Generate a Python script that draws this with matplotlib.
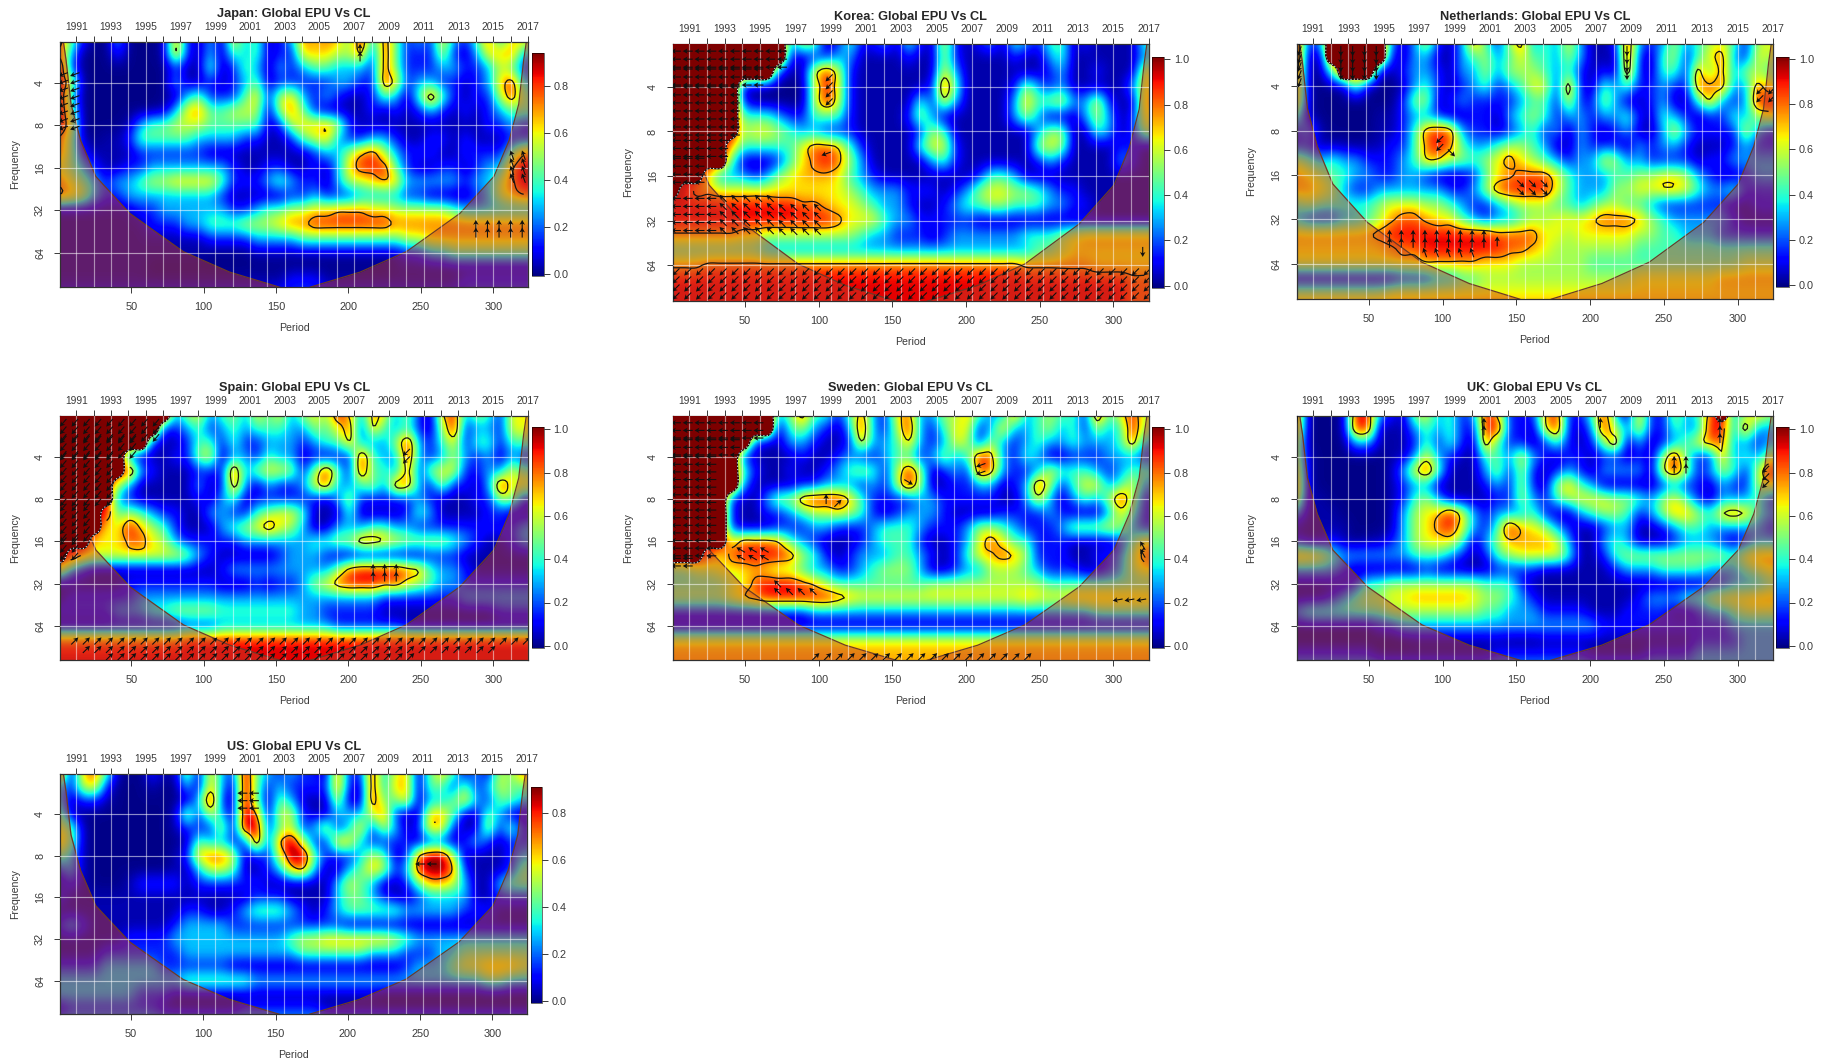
import numpy as np
import matplotlib
matplotlib.use("Agg")
import matplotlib.pyplot as plt
from matplotlib.cm import ScalarMappable
from matplotlib.colors import Normalize

plt.rcParams['font.family'] = ['Liberation Sans', 'DejaVu Sans']

# coherence, one char per cell (index into digit_levels)
# rows go 1/3 octave from log2 = 1 to 7, columns every 8 periods from 1 to 321
digit_levels = [0, 0.03, 0.13, 0.28, 0.43, 0.55, 0.65, 0.73, 0.82, 0.92, 1.0]

japan_rows = [
    "8420030001 7213163412 3767649384 2326324736 6",
    "7300020001 7213143412 2666557284 2225213667 3",
    "9200000000 2114124313 2344333284 2223322354 2",
    "9500000000 3112123412 2222332286 2332212368 3",
    "9300000000 1342224625 6323211243 1484212258 4",
    "9400000001 3674455515 7421111212 1232121234 4",
    "9500001344 5554444412 5667521111 1111111223 2",
    "7410112444 4433332211 2456322332 1122121112 2",
    "7421111222 2221111111 1123357853 2221122224 7",
    "5432112233 3333321122 1121368884 2112212337 9",
    "7543233455 6666422234 3221355676 3333323357 9",
    "7653223333 3333211111 2232223333 2211012356 7",
    "1111111223 3333322344 5566777665 5555433333 3",
    "1111111122 2334445556 7788888887 7777777777 7",
    "1111111111 1112222333 3444444444 5566666666 6",
    "1111111111 1110000111 1111111111 2233444444 4",
    "1111111100 0000000000 0000000001 1111111111 1",
    "1111111111 1111111111 2221111111 1111122222 2",
    "2222222222 2222222222 2222222222 2222222222 2",
]
korea_rows = [
    "aaaaaaaaaa 3651242231 4216212314 3244121111 4",
    "aaaaaaaaaa 2122331111 2115211112 1134111111 3",
    "aaaaaaaaa2 1169621111 1116311111 1123112111 6",
    "aaaaaa1100 0059621111 1129411112 5323111113 6",
    "aaaaaa2000 0059621111 1426311113 7456336211 7",
    "aaaaaa4443 2244421111 2531111113 5311135312 6",
    "aaaaaa5665 4332221111 1254111111 1355114312 5",
    "aaaaa74444 4688742111 1466211111 1565111122 1",
    "aaaaa41112 4689853111 1134211111 1232111132 1",
    "aaa6333235 6777643211 1111112443 1111111111 1",
    "a977666666 6666654333 2221235665 5432211111 1",
    "9999999999 9887665433 2112344554 4433221111 1",
    "9999999999 9999866643 3222221111 1111111111 1",
    "7777776655 5555554332 2212333333 4445677777 7",
    "4444444433 3333333333 3333333333 3445666666 6",
    "7778888888 8888888888 8888888888 7777776666 6",
    "9999999999 9999999999 9999999999 9999999998 8",
    "9999999999 9999999999 9999999999 9999999998 8",
    "9999999999 9999999999 9999999999 9999999998 8",
]
netherlands_rows = [
    "923aaaaa31 3621384258 3436311293 2353456425 6",
    "911aaaaa21 3311345346 4435311192 1452468326 5",
    "8104aaa112 3321335355 5434212182 1442848355 4",
    "7100141001 3421234234 6628214342 2322888338 6",
    "7100000002 5512322223 4426225311 2311473239 9",
    "4100000112 3321122134 5423323342 1432122435 6",
    "2310000112 4898322123 4231321231 1363222263 2",
    "2211101122 4898433455 4311322213 2332111232 2",
    "5434332223 4775545686 5432336533 2222122333 3",
    "7654433223 3211124678 8864333445 5665321123 3",
    "7765322333 3332235899 9964333556 6776433422 2",
    "4544444566 6554322345 5544345544 3222222112 2",
    "3222334578 8766432334 5566678887 5433333211 1",
    "7777777899 9999999888 8665666665 5443332222 2",
    "6666666678 8999999988 7655555554 4444444444 4",
    "6666666666 6777776665 5555544444 4444444455 5",
    "1111111112 2233445555 5555555556 6666667777 7",
    "5555555566 6666666666 6666666666 6666666666 6",
    "7777777777 7777777777 7777777777 7777777777 7",
]
spain_rows = [
    "aaaaaaaaaa 3563453646 3565973863 5217935426 6",
    "aaaaaaaaa2 2342343444 3354682743 4215923326 6",
    "aaaaaaaa21 1244242233 3234473335 9324624424 4",
    "aaaaaa2111 2256133243 3121229433 9323532313 2",
    "aaaaaa9321 1122293566 5259429443 8256622336 4",
    "aaaaa53111 1131283132 2368334538 8325221396 6",
    "aaaaa32111 1121341222 2221352222 2321112255 2",
    "aaaa945432 2113322456 6411141111 2431111221 1",
    "aaaa669754 2111345686 5311333443 3222222222 3",
    "aaa6668865 3222223333 3344558876 5555432112 3",
    "a976666666 6532111112 3332111111 1122211111 1",
    "6321111111 1111233333 3333589999 8743321111 1",
    "1111112222 2222111212 2356899988 6543322222 2",
    "1222222333 3333333333 3333333322 2222233333 3",
    "2222233344 5555444444 4332222211 1111111122 2",
    "1111111111 1222333333 3333222222 1111111111 1",
    "8888888888 8999999999 9999999999 9999999999 9",
    "9999999999 9999999999 9999999999 9999999999 9",
    "9999999999 9999999999 9999999999 9999999999 9",
]
sweden_rows = [
    "aaaaaaaaa3 5844248326 8335574338 3454429469 5",
    "aaaaaaaaa1 4532139325 9324662373 3453425349 5",
    "aaaaaaa211 3321127334 7323652532 3433433348 3",
    "aaaaaa2111 1211232234 4235349832 4311222333 2",
    "aaaaaa4211 2112345425 9512329832 2364443234 4",
    "aaaaaa3111 1223332325 9511223312 3952466346 3",
    "aaaaa21135 5899974222 2332222211 3631343595 2",
    "aaaaa21122 3455654212 3332111122 2232111364 2",
    "aaaaa21112 2233222344 4322235543 2223555653 2",
    "aaaaa68887 4321112344 4211236864 4222111124 6",
    "aaa8689999 8542123334 4321246787 5222112235 8",
    "4455666765 5433223455 5311233555 4322211235 6",
    "4444456899 9875444444 4455555555 5544444444 4",
    "5555567899 9999876666 6666666666 7666777777 7",
    "2222222222 2233333333 3333333333 3333334444 4",
    "1111111111 1111111111 1111111111 1111111111 1",
    "6666666666 6666666666 6666666666 6666666666 6",
    "7777777777 7777777777 7777777777 7777777777 7",
    "7777777777 7777777777 7777777777 7777777777 7",
]
uk_rows = [
    "8000199321 5634239722 2792249317 225348a357 5",
    "7000199111 3434229922 1692139536 2243399383 3",
    "5000033111 2424218422 1242125813 1234688332 3",
    "5100000011 3632114436 3212212212 1594227343 5",
    "6100000013 6941113525 2123213333 1695235425 9",
    "7100000012 3311112325 2157431111 1232213225 6",
    "6110000012 4531111225 3245666554 3564213334 2",
    "3111000013 5679632333 4211345542 3577547874 3",
    "1111100013 5689632497 6532112331 1234433333 2",
    "2112101123 5666413577 7763113431 1123332123 3",
    "7764333333 4443212456 6664112455 5555555467 7",
    "3333211111 1211101222 2111111233 3444433345 6",
    "1111124455 5555554442 1111111111 1111122333 4",
    "1112345566 7777765543 2111111112 3334456667 7",
    "3444444455 5555554433 3222211122 2211233455 5",
    "1111111223 3333333333 3333332222 2222222333 3",
    "0000000000 1111111100 0111111111 1111222233 3",
    "2222222111 1111111222 2222211111 2222333333 3",
    "3333333333 3333333333 3333333333 3333333333 3",
]
us_rows = [
    "8167410021 1516329432 3221722835 6146413154 7",
    "3256200010 0316319423 2222721836 6144242354 4",
    "3122100000 0139219414 3111511844 6133463244 3",
    "4100000000 1525319715 5211333572 1166411431 1",
    "5410000000 1222519924 5235236253 1266211524 2",
    "6410000000 0143322827 9522663222 2122123212 2",
    "4310000000 1267751225 9942223541 2799511112 3",
    "2310000000 1135541123 6731134652 3899721112 4",
    "1210001222 2122222211 1111354311 2466531134 4",
    "2111111111 1111111222 1111344321 1233331122 2",
    "1111111111 1221123444 3212344444 3333322211 1",
    "2321111111 2333322222 2222211111 1111111111 1",
    "1111112222 3333333333 4556666665 4333333333 3",
    "1111222222 2333333333 3444444333 2223344444 4",
    "2222333332 2222211111 1111111111 2333455666 5",
    "3333333333 3444444333 3333333333 3333333443 3",
    "3333333222 1111111111 1111111100 0000000000 0",
    "1222222221 1111112222 2221111111 1111111111 1",
    "3333333333 3333333333 3333333333 3333333333 3",
]

# arrow patches: first period, last period, first log2 freq, last log2 freq, angle
japan_arrows = [(3, 11, 1.8, 3.1, 200), (288, 321, 5.34, 5.53, 90), (313, 321, 3.7, 4.4, 110), (208, 208, 1.2, 1.4, 90)]
korea_arrows = [(3, 75, 1.2, 1.6, 180), (3, 59, 1.6, 2.0, 180), (3, 43, 2.0, 3.2, 180), (3, 35, 3.2, 3.6, 180),
                (3, 19, 3.6, 4.3, 180), (3, 27, 4.5, 5.3, 180), (35, 67, 4.5, 5.3, 135), (75, 99, 4.7, 5.3, 135),
                (107, 107, 1.8, 2.4, 225), (105, 105, 3.5, 3.5, 200), (3, 323, 6.15, 6.75, 225), (320, 320, 5.7, 5.7, 270)]
netherlands_arrows = [(31, 55, 1.2, 1.75, 270), (3, 3, 1.2, 2.0, 250), (98, 98, 3.2, 3.5, 225), (106, 106, 3.5, 3.5, 315),
                      (64, 130, 5.35, 5.55, 90), (88, 120, 5.75, 5.75, 110), (137, 137, 5.5, 5.5, 90),
                      (153, 169, 4.2, 4.4, 315), (225, 225, 1.2, 1.9, 270), (315, 323, 2.1, 2.4, 225)]
spain_arrows = [(3, 67, 1.2, 1.6, 230), (3, 51, 1.6, 2.0, 230), (3, 35, 2.0, 3.2, 230), (3, 19, 3.2, 4.0, 230),
                (3, 11, 4.0, 4.4, 230), (11, 323, 6.35, 6.35, 45), (19, 300, 6.55, 6.55, 45), (35, 250, 6.72, 6.72, 45),
                (217, 233, 4.65, 4.85, 90), (240, 240, 1.9, 2.2, 225)]
sweden_arrows = [(3, 59, 1.2, 1.6, 180), (3, 43, 1.6, 2.0, 180), (3, 27, 2.0, 4.4, 180), (3, 15, 4.4, 4.6, 180),
                 (47, 63, 4.2, 4.4, 150), (72, 96, 5.18, 5.18, 135), (72, 72, 5.0, 5.0, 135), (98, 244, 6.72, 6.72, 45),
                 (303, 319, 5.38, 5.38, 190), (320, 320, 4.1, 4.3, 120), (105, 105, 3.0, 3.15, 90),
                 (113, 113, 3.1, 3.1, 45), (161, 161, 2.6, 2.6, 330), (210, 210, 2.2, 2.4, 200)]
uk_arrows = [(257, 265, 2.1, 2.3, 90), (288, 288, 1.2, 1.6, 90), (128, 128, 1.2, 1.5, 90), (207, 207, 1.2, 1.3, 90),
             (319, 323, 2.3, 2.7, 225)]
us_arrows = [(127, 135, 1.5, 2.0, 180), (250, 258, 3.2, 3.2, 180)]

titles = ["Japan", "Korea", "Netherlands", "Spain", "Sweden", "UK", "US"]
all_rows = [japan_rows, korea_rows, netherlands_rows, spain_rows, sweden_rows, uk_rows, us_rows]
all_arrows = [japan_arrows, korea_arrows, netherlands_arrows, spain_arrows, sweden_arrows, uk_arrows, us_arrows]
top_values = [0.94, 1.01, 1.01, 1.01, 1.01, 1.01, 0.91]
# no significance line drawn below this log2 freq
contour_floor = [7, 7, 7, 6.0, 7, 7, 7]

# cone of influence, distance from the series edge against log2 freq
coi_dist = [0, 2, 4, 7.4, 14, 24.5, 48, 85, 117, 151, 162]
coi_log2 = [0.8, 1.0, 1.47, 2.5, 3.35, 4.2, 5.07, 5.97, 6.45, 6.8, 6.95]

freq_ticks = [4, 8, 16, 32, 64]
period_ticks = [50, 100, 150, 200, 250, 300]
years = list(range(1991, 2018))

# pixel boxes: left, right, top, bottom
axes_boxes = [(60.3, 528, 42, 287), (673, 1148.6, 44, 301), (1296.6, 1773, 44, 299),
              (60.3, 528, 416, 660), (673, 1148.6, 416, 660), (1296.6, 1773, 416, 660), (60.3, 527, 774, 1014)]
cbar_boxes = [(532, 543.5, 53, 276), (1151.7, 1164, 57, 288), (1776, 1789, 57, 287),
              (532, 543.5, 427, 648), (1151.7, 1164, 427, 648), (1776, 1789, 427, 648), (531, 542, 787, 1003)]

W, H = 1827, 1061
TXT = '#3a3a3a'


def parse_rows(rows):
    out = []
    for r in rows:
        r = r.replace(' ', '')
        r = r.ljust(41, r[-1])[:41]
        out.append([digit_levels[int(c, 16)] for c in r])
    return np.array(out)


def cubic_up(a, n, axis):
    # catmull-rom, only so the contour lines are as smooth as the bicubic image
    a = np.moveaxis(a, axis, 0)
    pos = np.arange((len(a) - 1) * n + 1) / n
    i = np.minimum(pos.astype(int), len(a) - 2)
    t = (pos - i).reshape((-1,) + (1,) * (a.ndim - 1))
    last = len(a) - 1
    p0, p1, p2, p3 = a[np.clip(i - 1, 0, last)], a[i], a[i + 1], a[np.clip(i + 2, 0, last)]
    out = 0.5 * (2 * p1 + (p2 - p0) * t + (2 * p0 - 5 * p1 + 4 * p2 - p3) * t ** 2 + (3 * p1 - p0 - 3 * p2 + p3) * t ** 3)
    return np.moveaxis(out, 0, axis)


def box_to_fig(box):
    l, r, t, b = box
    return [l / W, 1 - b / H, (r - l) / W, (b - t) / H]


def draw_panel(fig, name, rows, arrows, vmax, floor, box, cbox):
    z = parse_rows(rows)
    xg = 1 + 8 * np.arange(z.shape[1])
    yg = 1 + np.arange(z.shape[0]) / 3
    norm = Normalize(-0.01, vmax)

    ax = fig.add_axes(box_to_fig(box))
    ax.imshow(z, cmap='jet', norm=norm, aspect='auto', origin='upper', interpolation='bicubic',
              interpolation_stage='data', extent=(xg[0] - 4, xg[-1] + 4, yg[-1] + 1 / 6, yg[0] - 1 / 6), zorder=1)

    # shaded area outside the cone of influence
    d = np.array(coi_dist)
    cx = np.concatenate([1 + d, (325 - d)[::-1]])
    cy = np.array(coi_log2 + coi_log2[::-1])
    ax.fill_between(cx, cy, 8, color='#c83c28', alpha=0.48, lw=0, zorder=2)
    ax.plot(cx, cy, color='#6e3a28', lw=0.9, zorder=2.5)

    zs = cubic_up(cubic_up(z, 5, 0), 5, 1)
    xs = 1 + 8 * np.arange(zs.shape[1]) / 5
    ys = 1 + np.arange(zs.shape[0]) / 15

    # the saturated patches have a hard edge in the picture
    solid = cubic_up(cubic_up((z >= 0.99).astype(float), 5, 0), 5, 1)
    if solid.max() > 0.5:
        ax.contourf(xs, ys, solid, levels=[0.5, 9], colors='#7d0000', zorder=2.6)
        ax.contour(xs, ys, solid, levels=[0.5], colors='#151515', linewidths=0.9, zorder=4)
        ax.contour(xs, ys, solid, levels=[0.5], colors='#d8f4ff', linewidths=0.8, linestyles=[(0, (1, 2))], zorder=4.1)

    for yr in years:
        ax.axvline((yr - 1990) * 12, color='white', alpha=0.5, lw=0.85, zorder=3)
    for f in freq_ticks:
        ax.axhline(np.log2(f), color='white', alpha=0.55, lw=0.85, zorder=3)

    zc = np.where(solid > 0.05, np.nan, zs)
    zc[ys > floor, :] = np.nan
    ax.contour(xs, ys, zc, levels=[0.77], colors='#151515', linewidths=0.9, zorder=4)

    for x0, x1, y0, y1, ang in arrows:
        px, py = np.meshgrid(np.arange(x0, x1 + 1, 8), np.arange(y0, y1 + 0.01, 0.18))
        u = 10 * np.cos(np.radians(ang))
        v = 10 * np.sin(np.radians(ang))
        ax.quiver(px, py, np.full(px.shape, u), np.full(px.shape, v), angles='uv', scale_units='dots', scale=1,
                  units='dots', width=1.1, headwidth=5, headlength=4.5, headaxislength=3.5, pivot='mid',
                  color='#101010', zorder=5)

    ax.set_xlim(1, 324)
    ax.set_ylim(6.8, 1.04)
    ax.set_xticks(period_ticks)
    ax.set_yticks(np.log2(freq_ticks))
    ax.set_yticklabels([str(f) for f in freq_ticks], rotation=90, va='center')
    ax.tick_params(axis='x', length=4, width=0.7, labelsize=7.8, labelcolor=TXT, color=TXT, pad=7)
    ax.tick_params(axis='y', length=4, width=0.7, labelsize=7.8, labelcolor=TXT, color=TXT, pad=7)
    for s in ax.spines.values():
        s.set_linewidth(0.9)
        s.set_color('#303030')

    top = ax.secondary_xaxis('top')
    top.set_xticks([(y - 1990) * 12 for y in years])
    top.set_xticklabels([str(y) if y % 2 else '' for y in years])
    top.tick_params(length=4, width=0.7, labelsize=7.4, labelcolor=TXT, color=TXT, pad=3)
    top.spines['top'].set_visible(False)

    l, r, t, b = box
    cx_mid = (l + r) / 2 / W
    fig.text(cx_mid, 1 - (t - 27.5) / H, name + ": Global EPU Vs CL", ha='center', va='center',
             fontsize=9.2, fontweight='bold', color='#262626')
    fig.text(cx_mid, 1 - (b + 41) / H, "Period", ha='center', va='center', fontsize=7.6, color=TXT)
    fig.text((l - 45) / W, 1 - (t + b) / 2 / H, "Frequency", rotation=90, ha='center', va='center',
             fontsize=7.6, color=TXT)

    cax = fig.add_axes(box_to_fig(cbox))
    cb = fig.colorbar(ScalarMappable(norm=norm, cmap='jet'), cax=cax)
    ticks = [tk for tk in [0, 0.2, 0.4, 0.6, 0.8, 1.0] if tk <= vmax]
    cb.set_ticks(ticks)
    cb.set_ticklabels(["%.1f" % tk for tk in ticks])
    cb.ax.tick_params(length=4, width=0.7, labelsize=7.8, labelcolor=TXT, color=TXT, pad=3)
    cb.outline.set_linewidth(0.4)


fig = plt.figure(figsize=(W / 100, H / 100), dpi=100)
for i in range(len(titles)):
    draw_panel(fig, titles[i], all_rows[i], all_arrows[i], top_values[i], contour_floor[i], axes_boxes[i], cbar_boxes[i])
fig.savefig("out.png", dpi=100)
